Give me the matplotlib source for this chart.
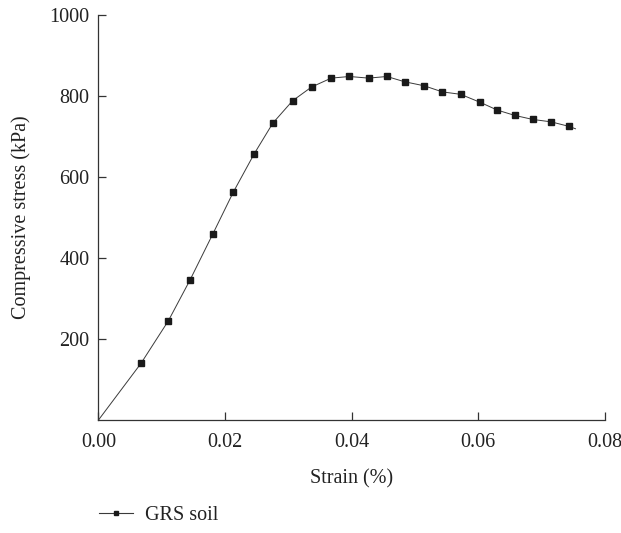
import matplotlib.pyplot as plt
from matplotlib.lines import Line2D

plt.rcParams['font.family'] = ['Liberation Serif', 'DejaVu Serif']

# valores
strain = [0.0, 0.00672, 0.01104, 0.01447, 0.01805, 0.02131, 0.02459, 0.02754,
          0.03065, 0.03365, 0.03676, 0.03963, 0.04266, 0.04556, 0.04835,
          0.05146, 0.05431, 0.0572, 0.06032, 0.063, 0.06574, 0.06858,
          0.0715, 0.07428, 0.07534]
stress = [0, 140, 245, 346, 459, 563, 657, 733, 788, 822, 844, 848, 844, 848,
          835, 825, 810, 804, 784, 765, 752, 742, 736, 725, 719]

xticks = [0.00, 0.02, 0.04, 0.06, 0.08]
yticks = [200, 400, 600, 800, 1000]

fig = plt.figure(figsize=(6.21, 5.33), dpi=100)
ax = fig.add_axes([0.1586, 0.212, 0.8156, 0.760])

ax.plot(strain, stress, color='#3a3a3a', linewidth=0.7, marker='s',
        markersize=4, markerfacecolor='#1a1a1a', markeredgecolor='#1a1a1a',
        markevery=list(range(1, len(strain) - 1)))

ax.set_xlim(0, 0.08)
ax.set_ylim(0, 1000)
ax.set_xticks(xticks)
ax.set_xticklabels(['%.2f' % v for v in xticks])
ax.set_yticks(yticks)
ax.spines['top'].set_visible(False)
ax.spines['right'].set_visible(False)
for s in ['left', 'bottom']:
    ax.spines[s].set_linewidth(0.9)
    ax.spines[s].set_color('#333333')
ax.tick_params(direction='in', length=6, width=0.9, color='#333333',
               labelsize=14.5, labelcolor='#222222')
ax.tick_params(axis='y', pad=6.5)
ax.tick_params(axis='x', pad=9.5)
ax.set_xlabel('Strain (%)', fontsize=14.5, labelpad=12, color='#222222')
ax.set_ylabel('Compressive stress (kPa)', fontsize=14.5, labelpad=13, color='#222222')

handle = Line2D([], [], color='#3a3a3a', linewidth=0.8, marker='s',
                markersize=3.5, markerfacecolor='#1a1a1a', markeredgecolor='#1a1a1a')
fig.legend([handle], ['GRS soil'], loc='center left', bbox_to_anchor=(0.1594, 0.032),
           frameon=False, fontsize=14.5, handlelength=1.7, handletextpad=0.6,
           borderpad=0, borderaxespad=0, labelcolor='#222222')

fig.savefig('out.png', dpi=100)
